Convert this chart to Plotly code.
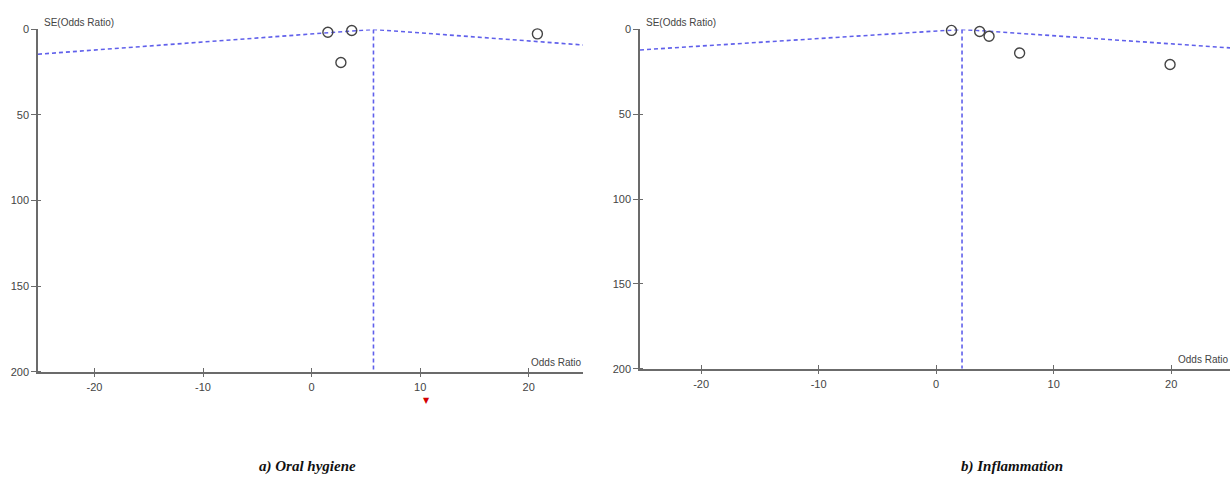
import plotly.graph_objects as go

# ---- data ----
# panel a: Oral hygiene
a_or = [1.5, 3.7, 2.7, 20.8]
a_se = [1.7, 0.6, 19.3, 2.6]
a_center = 5.7
a_funnel_x = [-25.2, 5.7, 25.0]
a_funnel_se = [14.5, 0.0, 9.1]
a_pooled_marker_x = [10.6]

# panel b: Inflammation
b_or = [1.3, 3.7, 4.5, 7.1, 19.9]
b_se = [0.6, 1.2, 4.0, 13.9, 20.7]
b_center = 2.2
b_funnel_x = [-25.2, 2.2, 25.0]
b_funnel_se = [12.1, 0.0, 10.9]

x_ticks = [-20, -10, 0, 10, 20]
x_tick_labels = ["-20", "-10", "0", "10", "20"]
y_ticks = [0, 50, 100, 150, 200]
titles = ["a) Oral hygiene", "b) Inflammation"]

W, H = 1232, 481
AX_COL = "#6b6b6b"
DASH_COL = "rgb(96,96,235)"
TICK_FONT = dict(family="Liberation Sans, Arial", size=11, color="#444")

fig = go.Figure()

def px2x(p):
    return p / W

def px2y(p):
    return 1 - p / H

panels = [
    dict(xs=a_or, ys=a_se, c=a_center, fx=a_funnel_x, fy=a_funnel_se,
         xr=[-25.2, 25.0], xd=[px2x(38), px2x(583)], yd=[px2y(375), px2y(24)]),
    dict(xs=b_or, ys=b_se, c=b_center, fx=b_funnel_x, fy=b_funnel_se,
         xr=[-25.2, 25.0], xd=[px2x(640), px2x(1230)], yd=[px2y(372), px2y(24)]),
]

for i, p in enumerate(panels):
    n = "" if i == 0 else str(i + 1)
    xa, ya = "x" + n, "y" + n
    fig.add_trace(go.Scatter(x=p["fx"], y=p["fy"], mode="lines", xaxis=xa, yaxis=ya,
                             line=dict(color=DASH_COL, width=1.6, dash="4px,3px"),
                             cliponaxis=False, hoverinfo="skip", showlegend=False))
    fig.add_trace(go.Scatter(x=[p["c"], p["c"]], y=[0, 200], mode="lines", xaxis=xa, yaxis=ya,
                             line=dict(color=DASH_COL, width=1.6, dash="4px,3px"),
                             cliponaxis=False, hoverinfo="skip", showlegend=False))
    fig.add_trace(go.Scatter(x=p["xs"], y=p["ys"], mode="markers", xaxis=xa, yaxis=ya,
                             marker=dict(symbol="circle-open", size=10, color="#444",
                                         line=dict(width=1.4, color="#444")),
                             cliponaxis=False, showlegend=False))
    fig.layout["xaxis" + n] = dict(
        domain=p["xd"], range=p["xr"], anchor=ya, tickvals=x_ticks, ticktext=x_tick_labels,
        showgrid=False, zeroline=False, showline=True, linecolor=AX_COL, linewidth=1.5,
        ticks="outside", ticklen=4, tickcolor=AX_COL, tickfont=TICK_FONT, fixedrange=True,
        minor=dict(tickvals=x_ticks, ticks="inside", ticklen=4, tickcolor=AX_COL,
                   showgrid=False))
    fig.layout["yaxis" + n] = dict(
        domain=p["yd"], range=[200, 0], anchor=xa, tickvals=y_ticks,
        showgrid=False, zeroline=False, showline=True, linecolor=AX_COL, linewidth=1.5,
        ticks="outside", ticklen=5, tickcolor=AX_COL, tickfont=TICK_FONT, fixedrange=True,
        minor=dict(tickvals=y_ticks[1:], ticks="inside", ticklen=3, tickcolor=AX_COL,
                   showgrid=False))

ann = []
lab_font = dict(family="Liberation Sans, Arial", size=10, color="#444")
for i, (xl, xr, ybot) in enumerate([(38, 583, 375), (640, 1230, 372)]):
    ann.append(dict(text="SE(Odds Ratio)", xref="paper", yref="paper",
                    x=px2x(xl + 4), y=px2y(9), xanchor="left", yanchor="top",
                    showarrow=False, font=lab_font))
    ann.append(dict(text="Odds Ratio", xref="paper", yref="paper",
                    x=px2x(xr), y=px2y(ybot - 2), xanchor="right", yanchor="bottom",
                    showarrow=False, font=lab_font))

# red pooled-estimate marker below the axis (panel a)
for xv in a_pooled_marker_x:
    ann.append(dict(text="▼", xref="x", yref="paper", x=xv, y=px2y(405),
                    xanchor="center", yanchor="middle", showarrow=False,
                    font=dict(family="DejaVu Sans", size=8, color="#d40000")))

title_font = dict(family="Liberation Serif, DejaVu Serif", size=15, color="#111")
for t, cx in zip(titles, [307, 1012]):
    ann.append(dict(text="<b><i>" + t + "</i></b>", xref="paper", yref="paper",
                    x=px2x(cx), y=px2y(472), xanchor="center", yanchor="middle",
                    showarrow=False, font=title_font))

fig.update_layout(width=W, height=H, margin=dict(l=0, r=0, t=0, b=0),
                  paper_bgcolor="white", plot_bgcolor="white", annotations=ann,
                  showlegend=False)

fig.write_html("out.html", config={"displayModeBar": False},
               post_script="document.body.style.margin='0';document.body.style.overflow='hidden';")
